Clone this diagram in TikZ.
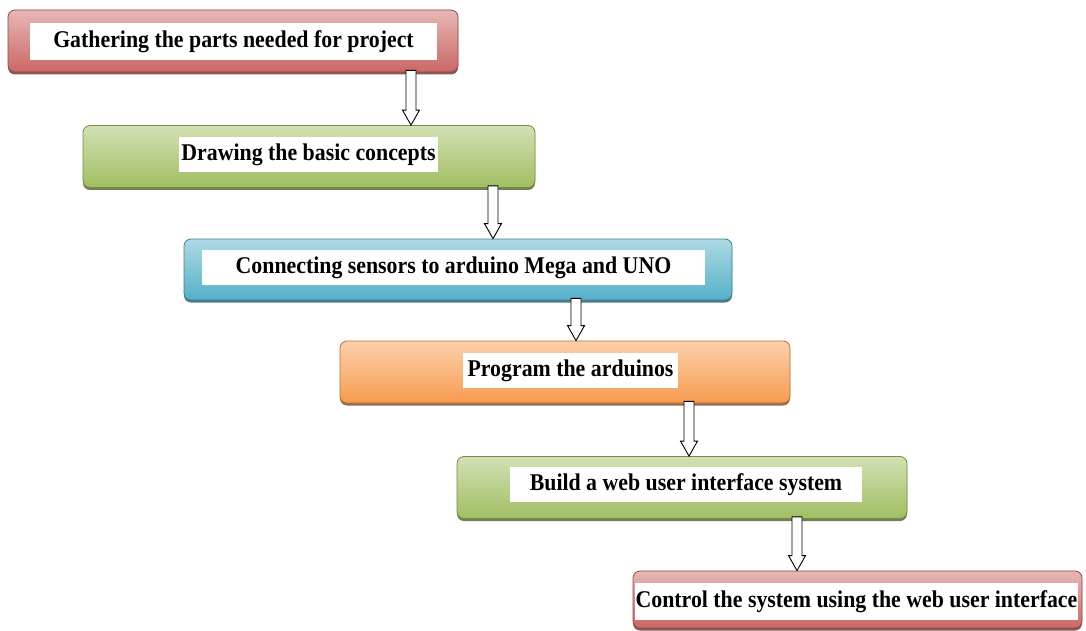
\documentclass[tikz,border=0pt]{standalone}
\usepackage{fontspec}
\setmainfont{Liberation Serif}[FakeStretch=0.91]
\usetikzlibrary{calc,shadows}

\definecolor{stepred}{RGB}{200,95,92}
\definecolor{stepgreen}{RGB}{155,187,89}
\definecolor{stepblue}{RGB}{75,172,198}
\definecolor{steporange}{RGB}{247,150,70}

\tikzset{
  stepbox/.style={rectangle, rounded corners=7pt, minimum width=450pt, minimum height=62pt,
    draw=#1!75!black, line width=0.8pt,
    top color=#1!45!white, middle color=#1!80!white, bottom color=#1!95!white,
    drop shadow={shadow xshift=0pt, shadow yshift=-2.5pt, fill=#1!50!black, opacity=0.8}},
  steplabel/.style={rectangle, fill=white, inner sep=0pt, minimum height=35pt,
    font=\fontsize{24}{28}\selectfont\bfseries},
  blockarrow/.style={draw=black, line width=0.9pt, fill=white, line join=miter}
}

\begin{document}
\begin{tikzpicture}[x=1pt,y=-1pt]
        \useasboundingbox (0,0) rectangle (1086,631);

        % the six steps
        \node[stepbox=stepred] (s1) at (233,41) {};
        \node[stepbox=stepgreen, minimum width=452pt] (s2) at (309,156.5) {};
        \node[stepbox=stepblue, minimum width=548pt, minimum height=61pt] (s3) at (458,269.5) {};
        \node[stepbox=steporange] (s4) at (565,372) {};
        \node[stepbox=stepgreen] (s5) at (682,487.5) {};
        \node[stepbox=stepred, minimum width=449pt, minimum height=57pt] (s6) at (857.5,599.5) {};

        % white text strips
        \node[steplabel, minimum width=407pt, minimum height=37pt] (t1) at (233.5,41.5) {Gathering the parts needed for project};
        \node[steplabel, minimum width=259pt] (t2) at (308.5,154.5) {Drawing the basic concepts};
        \node[steplabel, minimum width=503pt] (t3) at (453.5,267.5) {Connecting sensors to arduino Mega and UNO};
        \node[steplabel, minimum width=215pt] (t4) at (570.5,370.5) {Program the arduinos};
        \node[steplabel, minimum width=352pt] (t5) at (686,484.5) {Build a web user interface system};
        \node[steplabel, minimum width=443pt, minimum height=37pt] (t6) at (856.5,601.5) {Control the system using the web user interface};

        % hollow arrows between the steps
        \foreach \a/\b/\x in {s1/s2/411, s2/s3/493, s3/s4/576, s4/s5/689, s5/s6/797}{
          \coordinate (ax) at (\x,0);
          \coordinate (top) at (\a.south -| ax);
          \coordinate (tip) at (\b.north -| ax);
          \draw[blockarrow] ($(top)+(-5,-2)$) -- ($(tip)+(-5,-15)$) -- ($(tip)+(-8.5,-15)$) -- (tip)
            -- ($(tip)+(8.5,-15)$) -- ($(tip)+(5,-15)$) -- ($(top)+(5,-2)$) -- cycle;
        }
    \end{tikzpicture}
\end{document}
